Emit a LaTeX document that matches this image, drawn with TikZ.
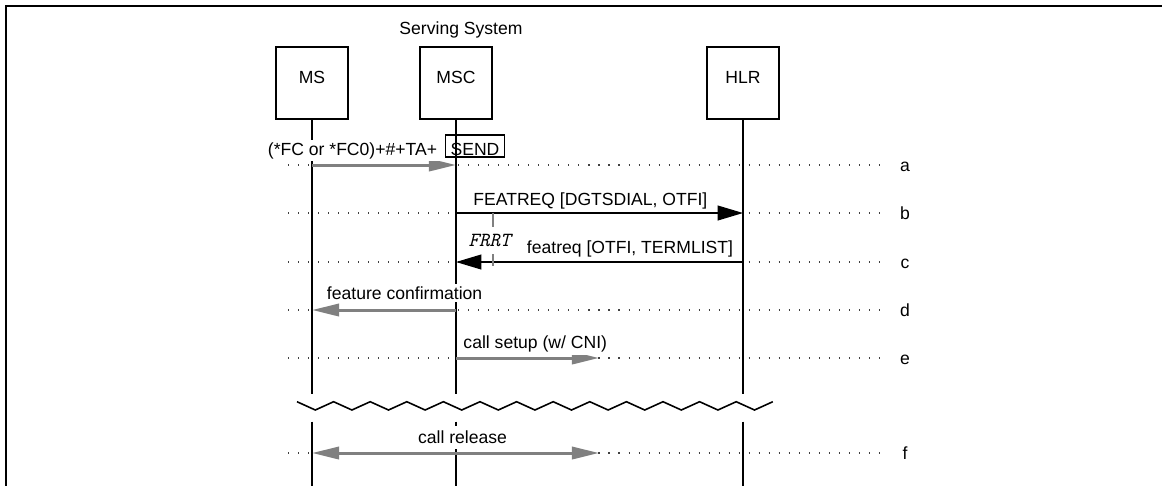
\documentclass[tikz,border=0pt]{standalone}
\usepackage{fontspec}
\setmainfont{Liberation Sans}
\usetikzlibrary{arrows.meta}
\definecolor{msggray}{RGB}{128,128,128}
\tikzset{
  entity box/.style={
    draw=black, line width=0.75pt, inner sep=0pt,
    minimum width=41pt, minimum height=41pt, text depth=6.2pt
  },
  life line/.style={
    draw=black, line width=0.9pt
  },
  row dots/.style={
    draw=black!75, line width=0.6pt, dash pattern=on 0.6pt off 5.1pt
  },
  gray msg/.style={
    draw=msggray, line width=1.7pt,
    -{Triangle[length=15.5pt, width=7pt, fill=msggray]}
  },
  gray both/.style={
    draw=msggray, line width=1.7pt,
    {Triangle[length=15.5pt, width=7pt, fill=msggray]}-{Triangle[length=15.5pt, width=7pt, fill=msggray]}
  },
  black msg/.style={
    draw=black, line width=0.75pt,
    -{Triangle[length=14.5pt, width=8.5pt]}
  },
  msg label/.style={
    fill=white, inner xsep=1.5pt, inner ysep=1.5pt
  },
  timer line/.style={
    draw=msggray, line width=1.2pt
  }
}

\begin{document}
\begin{tikzpicture}[x=0.02cm, y=-0.02cm]
\useasboundingbox (0,0) rectangle (1162,485);
\clip (0,0) rectangle (1162,485);
\draw[line width=1.3pt] (6,6) rectangle (1180,500);

% ------------------------------------------------
% 实体框
% ------------------------------------------------
\node[entity box] (ms)  at (312,83) {MS};
\node[entity box] (msc) at (456,83) {MSC};
\node[entity box] (hlr) at (743,83) {HLR};
\node[anchor=base] (srv) at (461,34) {Serving System};

\coordinate (dl)   at (288,0);
\coordinate (dr)   at (880,0);
\coordinate (cutA) at (0,394);
\coordinate (cutB) at (0,421.7);
\coordinate (bot)  at (0,490);
\coordinate (xe)   at (599,0);

% ------------------------------------------------
% 行虚线 a--f
% ------------------------------------------------
\foreach \r/\y in {a/165,b/213,c/262,d/310,e/358,f/453}{
  \coordinate (y\r) at (0,\y);
  \draw[row dots] (dl |- y\r) -- (dr |- y\r);
  \node[anchor=base] (lbl\r) at (905,\y+6) {\r};
}

% ------------------------------------------------
% 生命线与断开波浪线
% ------------------------------------------------
\foreach \e in {ms,msc,hlr}{
  \draw[life line] (\e.south) -- (\e |- cutA);
  \draw[life line] (\e |- cutB) -- (\e |- bot);
}
\coordinate (wv) at (297,401.7);
\draw[life line, line join=miter]
  (wv) foreach \i in {1,...,13}{ -- ++(18.3,8.3) -- ++(18.3,-8.3) };

% ------------------------------------------------
% 消息
% ------------------------------------------------
\draw[gray msg]  (ms |- ya)  -- (msc |- ya);
\draw[black msg] (msc |- yb) -- (hlr |- yb);
\draw[black msg] (hlr |- yc) -- (msc |- yc);
\draw[gray msg]  (msc |- yd) -- (ms |- yd);
\draw[gray msg]  (msc |- ye) -- (xe |- ye);
\draw[gray both] (ms |- yf)  -- (xe |- yf);

\coordinate (tTop) at (493,213);
\coordinate (tBot) at (493,266);
\draw[timer line] (tTop) -- (tBot);
\node[msg label, inner ysep=4pt, anchor=base] (frrt) at (489.7,246.7)
  {\fontsize{11.4}{13}\selectfont\ttfamily\itshape FRRT};

% ------------------------------------------------
% 标签
% ------------------------------------------------
\node[msg label, anchor=base east] (pfx) at (440,155) {(*FC or *FC0)+\#+TA+};
\node[draw, line width=0.75pt, inner xsep=0pt, inner ysep=0.5pt,
      minimum width=33.6pt, text height=10.9pt, text depth=0.6pt,
      anchor=base] (send) at (475,155) {SEND};
\node[msg label, anchor=base west] (mb) at (470.4,205)   {FEATREQ [DGTSDIAL, OTFI]};
\node[msg label, anchor=base west] (mc) at (524,253.5)   {featreq [OTFI, TERMLIST]};
\node[msg label, anchor=base west] (md) at (324,299.3)   {feature confirmation};
\node[msg label, anchor=base west] (me) at (460.5,348.3) {call setup (w/ CNI)};
\node[msg label, inner ysep=3pt, anchor=base] (mf) at (462.5,443.5) {call release};
\end{tikzpicture}
\end{document}
